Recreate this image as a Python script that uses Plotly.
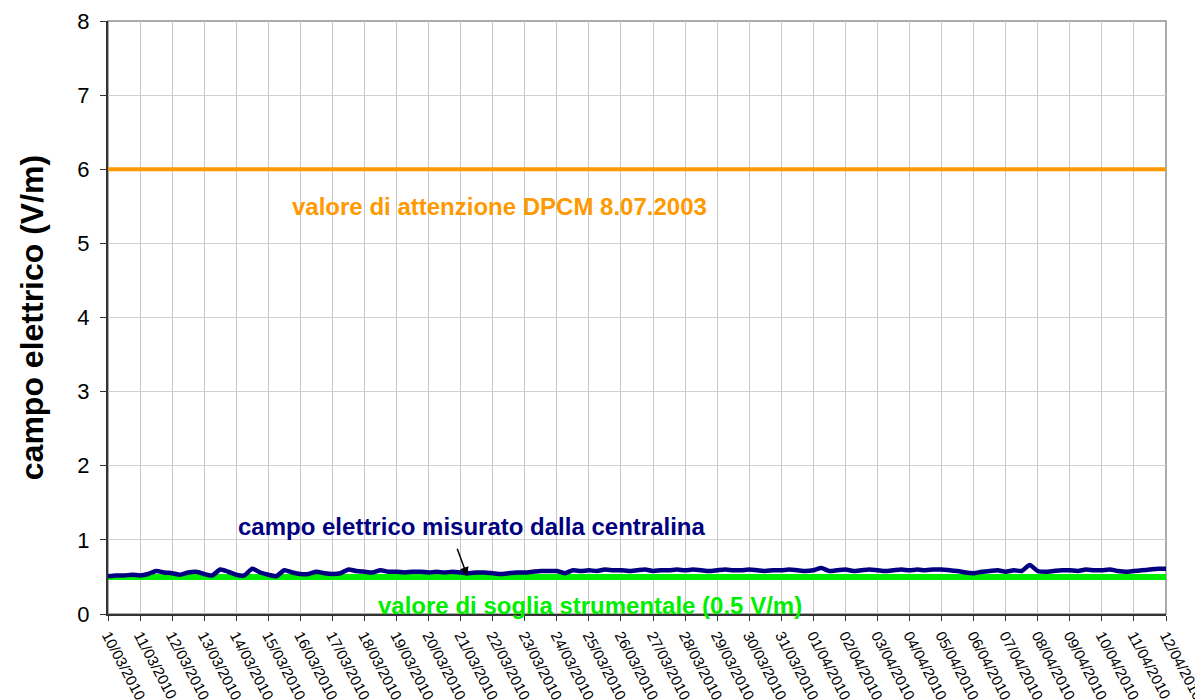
import plotly.graph_objects as go
import pandas as pd

# 6-hourly readings of the measured field (V/m), 10/03/2010 - 12/04/2010
campo = [
    0.51, 0.52, 0.52, 0.53,  # 10/03
    0.52, 0.54, 0.58, 0.56,  # 11/03
    0.55, 0.53, 0.56, 0.57,  # 12/03
    0.54, 0.52, 0.60, 0.57,  # 13/03
    0.53, 0.52, 0.61, 0.56,  # 14/03
    0.53, 0.51, 0.59, 0.56,  # 15/03
    0.54, 0.54, 0.57, 0.55,  # 16/03
    0.54, 0.55, 0.60, 0.58,  # 17/03
    0.57, 0.56, 0.59, 0.57,  # 18/03
    0.57, 0.56, 0.57, 0.57,  # 19/03
    0.56, 0.57, 0.56, 0.57,  # 20/03
    0.56, 0.55, 0.56, 0.56,  # 21/03
    0.55, 0.54, 0.55, 0.56,  # 22/03
    0.56, 0.57, 0.58, 0.58,  # 23/03
    0.58, 0.55, 0.59, 0.58,  # 24/03
    0.59, 0.58, 0.60, 0.59,  # 25/03
    0.59, 0.58, 0.59, 0.60,  # 26/03
    0.58, 0.59, 0.59, 0.60,  # 27/03
    0.59, 0.60, 0.59, 0.58,  # 28/03
    0.59, 0.60, 0.59, 0.59,  # 29/03
    0.60, 0.59, 0.58, 0.59,  # 30/03
    0.59, 0.60, 0.59, 0.58,  # 31/03
    0.59, 0.62, 0.58, 0.59,  # 01/04
    0.60, 0.58, 0.59, 0.60,  # 02/04
    0.59, 0.58, 0.59, 0.60,  # 03/04
    0.59, 0.60, 0.59, 0.60,  # 04/04
    0.60, 0.59, 0.58, 0.56,  # 05/04
    0.55, 0.57, 0.58, 0.59,  # 06/04
    0.57, 0.59, 0.58, 0.66,  # 07/04
    0.58, 0.57, 0.58, 0.59,  # 08/04
    0.59, 0.58, 0.60, 0.59,  # 09/04
    0.59, 0.60, 0.58, 0.57,  # 10/04
    0.58, 0.59, 0.60, 0.61,  # 11/04
    0.61,                    # 12/04
]
times = pd.date_range("2010-03-10 00:00", periods=len(campo), freq="6h")

soglia = 0.5
attenzione = 6.0
x_start = "2010-03-10"
x_end = "2010-04-12"

y_title = "campo elettrico (V/m)"
lbl_attenzione = "valore di attenzione DPCM 8.07.2003"
lbl_campo = "campo elettrico misurato dalla centralina"
lbl_soglia = "valore di soglia strumentale (0.5 V/m)"

FONT = "Liberation Sans, Arial, sans-serif"

fig = go.Figure()
fig.add_trace(go.Scatter(x=[x_start, x_end], y=[attenzione, attenzione], mode="lines",
                         line=dict(color="#ff9900", width=4), hoverinfo="skip"))
fig.add_trace(go.Scatter(x=[x_start, x_end], y=[soglia, soglia], mode="lines",
                         line=dict(color="#00ee00", width=6), hoverinfo="skip"))
fig.add_trace(go.Scatter(x=times, y=campo, mode="lines",
                         line=dict(color="#000080", width=4.5, shape="spline", smoothing=0.6)))

bold = dict(family=FONT, size=24)
fig.add_annotation(x="2010-03-22 05:00", y=5.5, text="<b>" + lbl_attenzione + "</b>",
                   showarrow=False, font=dict(color="#ff9900", **bold))
fig.add_annotation(x="2010-03-21 08:00", y=1.18, text="<b>" + lbl_campo + "</b>",
                   showarrow=False, font=dict(color="#000080", **bold))
fig.add_annotation(x="2010-03-25 01:00", y=0.11, text="<b>" + lbl_soglia + "</b>",
                   showarrow=False, font=dict(color="#00ee00", **bold))
fig.add_annotation(x="2010-03-21 05:00", y=0.51, ax="2010-03-20 21:00", ay=0.9,
                   axref="x", ayref="y", xref="x", yref="y", text="",
                   showarrow=True, arrowhead=2, arrowsize=1.2, arrowwidth=1.5, arrowcolor="black")

fig.update_layout(
    width=1203, height=700,
    margin=dict(l=100, r=45, t=13, b=94),
    paper_bgcolor="white", plot_bgcolor="white",
    showlegend=False,
    font=dict(family=FONT, color="black"),
)
fig.update_xaxes(
    type="date", range=[x_start, x_end], dtick=86400000, tick0=x_start,
    tickformat="%d/%m/%Y", tickangle=62, tickfont=dict(size=15),
    showgrid=True, gridcolor="#c8c8c8", gridwidth=1,
    ticks="outside", ticklen=5, tickcolor="#333333",
    showline=True, linecolor="#333333", linewidth=2, mirror=False,
    automargin=False,
)
fig.update_yaxes(
    range=[0, 8], dtick=1, tickfont=dict(size=22),
    ticklabelstandoff=6,
    showgrid=True, gridcolor="#d0d0d0", gridwidth=1, zeroline=False,
    ticks="outside", ticklen=6, tickcolor="#333333",
    showline=True, linecolor="#333333", linewidth=2,
    title=dict(text="<b>" + y_title + "</b>", font=dict(size=32), standoff=24),
    automargin=False,
)
fig.add_shape(type="rect", xref="paper", yref="paper", x0=0, y0=0, x1=1, y1=1,
              line=dict(color="#909090", width=1.5), layer="below")

fig.write_html("out.html")
